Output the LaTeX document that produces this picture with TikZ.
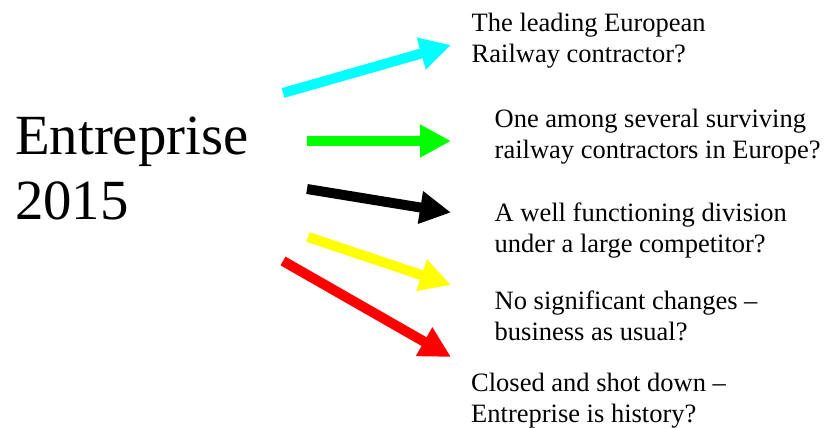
\documentclass[tikz,border=0pt]{standalone}
\usepackage{fontspec}
\setmainfont{Liberation Serif}
\usetikzlibrary{arrows.meta}
\tikzset{
  fatarrow/.style={line width=10bp, -{Triangle[length=31bp,width=31bp]}},
  optlabel/.style={anchor=base west, inner sep=0pt, align=left, font=\fontsize{26.6}{31}\selectfont},
  bigtitle/.style={anchor=base west, inner sep=0pt, align=left, font=\fontsize{57}{65}\selectfont}
}
\begin{document}
\begin{tikzpicture}[x=1bp,y=-1bp]
\useasboundingbox (0,0) rectangle (824,427);
% base anchor of a multi-line node lies on its last line
\node[bigtitle] (title) at (15,219.3) {Entreprise\\2015};
\node[optlabel] (o1) at (471.5,62.7) {The leading European\\Railway contractor?};
\node[optlabel] (o2) at (494.5,158.3) {One among several surviving\\railway contractors in Europe?};
\node[optlabel] (o3) at (494.5,252.5) {A well functioning division\\under a large competitor?};
\node[optlabel] (o4) at (494.5,340.3) {No significant changes –\\business as usual?};
\node[optlabel] (o5) at (471,422.2) {Closed and shot down –\\Entreprise is history?};
\coordinate (t1) at (283,93);  \coordinate (h1) at (451,45);
\coordinate (t2) at (307,141); \coordinate (h2) at (451,141);
\coordinate (t3) at (307,189); \coordinate (h3) at (451,212.5);
\coordinate (t4) at (308,237); \coordinate (h4) at (451,285);
\coordinate (t5) at (283,261); \coordinate (h5) at (451,357);
\draw[fatarrow, draw={rgb,255:red,0;green,255;blue,255}, fill={rgb,255:red,0;green,255;blue,255}] (t1) -- (h1);
\draw[fatarrow, draw={rgb,255:red,0;green,255;blue,0}, fill={rgb,255:red,0;green,255;blue,0}] (t2) -- (h2);
\draw[fatarrow, draw=black, fill=black] (t3) -- (h3);
\draw[fatarrow, draw={rgb,255:red,255;green,255;blue,0}, fill={rgb,255:red,255;green,255;blue,0}] (t4) -- (h4);
\draw[fatarrow, draw={rgb,255:red,255;green,0;blue,0}, fill={rgb,255:red,255;green,0;blue,0}] (t5) -- (h5);
\end{tikzpicture}
\end{document}
